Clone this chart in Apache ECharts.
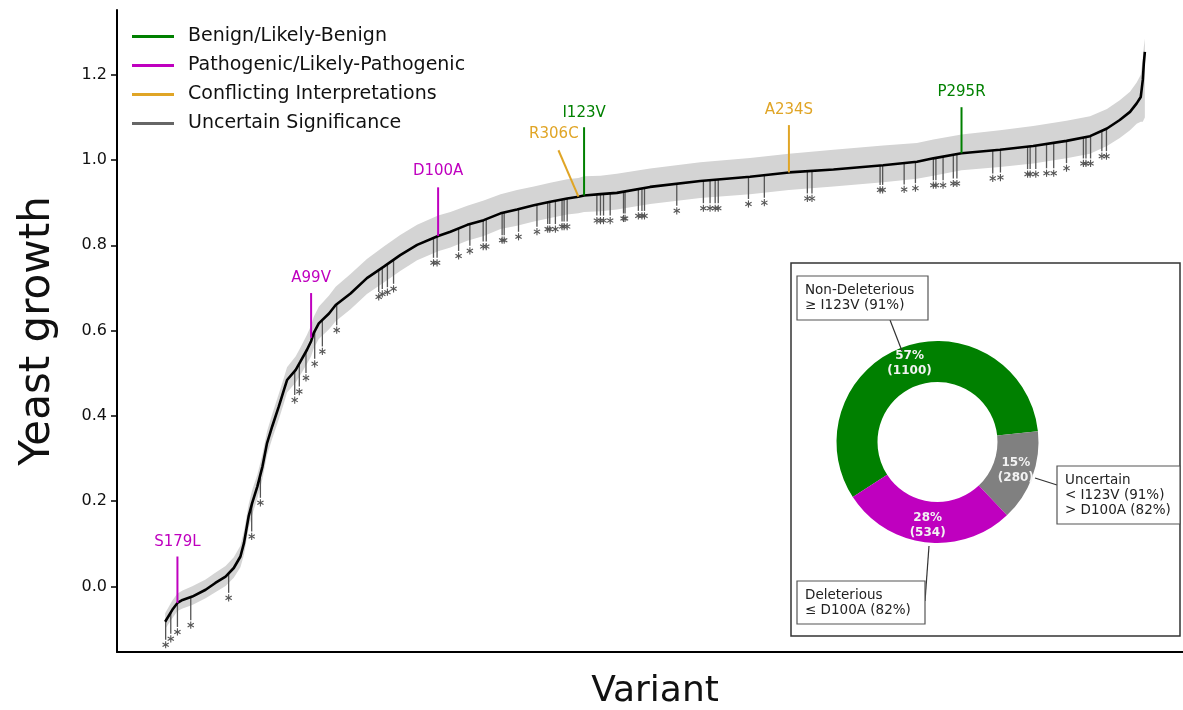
<!DOCTYPE html>
<html><head><meta charset="utf-8">
<script src="https://cdn.jsdelivr.net/npm/echarts@6/dist/echarts.min.js"></script>
<style>html,body{margin:0;padding:0;background:#fff}#c{width:1183px;height:710px}</style>
</head><body><div id="c"></div>
<script>
// ---- sorted yeast-growth curve (variant rank, value) ----
const curveIdx = [0,14,24,34,53,79,98,118,134,147,154,163,170,180,190,199,209,222,232,238,255,264,277,285,290,300,320,333,362,394,427,459,492,533,557,590,622,655,687,720,752,785,807,818,850,882,947,1045,1142,1218,1305,1402,1468,1500,1555,1630,1695,1760,1806,1839,1864,1884,1897,1905,1907,1909,1911,1913];
const curveVal = [-0.083,-0.055,-0.039,-0.032,-0.024,-0.008,0.008,0.023,0.043,0.070,0.102,0.164,0.196,0.234,0.281,0.336,0.375,0.422,0.461,0.484,0.508,0.527,0.555,0.575,0.594,0.617,0.640,0.660,0.687,0.723,0.750,0.777,0.801,0.822,0.832,0.848,0.859,0.875,0.884,0.894,0.902,0.910,0.914,0.917,0.920,0.923,0.937,0.951,0.961,0.971,0.978,0.988,0.996,1.004,1.016,1.024,1.033,1.045,1.056,1.074,1.094,1.113,1.133,1.148,1.168,1.188,1.227,1.254];
const bandHi = [-0.063,-0.033,-0.017,-0.010,0.000,0.016,0.032,0.048,0.068,0.095,0.130,0.192,0.226,0.262,0.310,0.364,0.404,0.452,0.490,0.514,0.540,0.560,0.590,0.612,0.632,0.656,0.682,0.703,0.733,0.768,0.797,0.824,0.848,0.870,0.878,0.893,0.905,0.920,0.930,0.938,0.947,0.955,0.958,0.962,0.963,0.968,0.980,0.995,1.005,1.015,1.024,1.034,1.040,1.048,1.060,1.070,1.080,1.092,1.103,1.120,1.140,1.160,1.182,1.200,1.220,1.240,1.265,1.285];
const bandLo = [-0.100,-0.075,-0.058,-0.052,-0.044,-0.028,-0.014,0.001,0.020,0.045,0.075,0.136,0.168,0.206,0.252,0.308,0.346,0.392,0.430,0.455,0.478,0.496,0.522,0.540,0.558,0.580,0.603,0.622,0.650,0.686,0.713,0.740,0.765,0.786,0.795,0.811,0.822,0.838,0.846,0.856,0.864,0.872,0.875,0.878,0.880,0.884,0.897,0.911,0.920,0.930,0.938,0.948,0.956,0.963,0.976,0.984,0.992,1.004,1.015,1.033,1.052,1.070,1.085,1.090,1.090,1.090,1.095,1.100];

// ---- significance markers (rank, line top on curve, asterisk value) ----
const markIdx = [1,11,24,50,124,169,186,253,262,275,292,307,335,417,424,434,446,524,531,573,595,621,627,658,662,690,726,747,751,762,775,779,785,843,850,856,869,895,898,924,931,936,999,1051,1064,1074,1080,1139,1170,1254,1263,1396,1401,1443,1465,1500,1505,1519,1539,1546,1616,1631,1684,1689,1700,1721,1735,1760,1793,1798,1807,1829,1838];
const markTop = [-0.081,-0.060,-0.039,-0.025,0.029,0.192,0.262,0.505,0.523,0.551,0.598,0.625,0.662,0.742,0.748,0.756,0.766,0.818,0.821,0.840,0.850,0.859,0.861,0.876,0.877,0.885,0.895,0.901,0.902,0.904,0.907,0.908,0.910,0.919,0.920,0.921,0.922,0.926,0.926,0.932,0.934,0.935,0.944,0.951,0.953,0.954,0.955,0.961,0.965,0.973,0.974,0.987,0.988,0.993,0.996,1.004,1.005,1.008,1.012,1.014,1.022,1.024,1.031,1.032,1.034,1.037,1.040,1.045,1.053,1.054,1.056,1.068,1.073];
const markStar = [-0.137,-0.123,-0.107,-0.091,-0.027,0.117,0.196,0.437,0.457,0.489,0.522,0.551,0.601,0.679,0.686,0.690,0.698,0.759,0.759,0.775,0.787,0.797,0.797,0.812,0.812,0.820,0.832,0.838,0.838,0.838,0.844,0.844,0.844,0.858,0.858,0.858,0.858,0.863,0.863,0.869,0.869,0.869,0.881,0.887,0.887,0.887,0.887,0.897,0.900,0.910,0.910,0.930,0.930,0.931,0.934,0.941,0.941,0.941,0.945,0.945,0.957,0.959,0.967,0.967,0.967,0.969,0.969,0.981,0.992,0.992,0.992,1.009,1.009];

const yTicks = [0.0,0.2,0.4,0.6,0.8,1.0,1.2];

// ---- ClinVar categories / annotated variants ----
const categories = ['Benign/Likely-Benign','Pathogenic/Likely-Pathogenic','Conflicting Interpretations','Uncertain Significance'];
const categoryColors = ['#008000','#bf00bf','#e0a526','#666666'];
const annNames = ['S179L','A99V','D100A','R306C','I123V','A234S','P295R'];
const annCat = [1,1,1,2,0,2,0];
const annLabelIdx = [24,285,533,759,818,1218,1555];
const annLabelVal = [0.104,0.723,0.973,1.061,1.110,1.117,1.160];
const annTopIdx = [24,285,533,768,818,1218,1555];
const annTopVal = [0.070,0.688,0.936,1.023,1.077,1.082,1.124];
const annBotIdx = [24,285,533,807,818,1218,1555];
const annBotVal = [-0.039,0.583,0.822,0.914,0.917,0.971,1.016];

// ---- inset donut ----
const pieNames = ['Non-Deleterious','Uncertain','Deleterious'];
const pieCounts = [1100,280,534];
const piePct = [57,15,28];
const pieColors = ['#008000','#808080','#bf00bf'];
const calloutTexts = ['Non-Deleterious\n≥ I123V (91%)','Uncertain\n< I123V (91%)\n> D100A (82%)','Deleterious\n≤ D100A (82%)'];

const FONT = 'DejaVu Sans';
const chart = echarts.init(document.getElementById('c'), null, {renderer:'canvas'});

function bandRender(params, api){
  const pts = [];
  for (let k=0;k<curveIdx.length;k++) pts.push(api.coord([curveIdx[k], bandHi[k]]));
  for (let k=curveIdx.length-1;k>=0;k--) pts.push(api.coord([curveIdx[k], bandLo[k]]));
  return {type:'polygon', shape:{points:pts}, style:{fill:'#d4d4d4', stroke:null}};
}
function markRender(params, api){
  const p1 = api.coord([api.value(0), api.value(1)]);
  const p2 = api.coord([api.value(0), api.value(2)]);
  const r = 3.6, c = '#555555';
  const ch = [{type:'line', shape:{x1:p1[0],y1:p1[1],x2:p2[0],y2:p2[1]-5}, style:{stroke:c, lineWidth:1.3}}];
  for (const a of [90,30,-30]) {
    const dx = r*Math.cos(a*Math.PI/180), dy = r*Math.sin(a*Math.PI/180);
    ch.push({type:'line', shape:{x1:p2[0]-dx,y1:p2[1]-dy,x2:p2[0]+dx,y2:p2[1]+dy}, style:{stroke:c, lineWidth:1.1}});
  }
  return {type:'group', children:ch};
}
function annSeries(cat){
  const ks = [];
  annNames.forEach((n,k)=>{ if (annCat[k]===cat) ks.push(k); });
  return {
    name: categories[cat], type:'custom', z:5,
    data: ks.map(k=>[annLabelIdx[k], annLabelVal[k], annTopIdx[k], annTopVal[k], annBotIdx[k], annBotVal[k]]),
    itemStyle:{color:categoryColors[cat]},
    renderItem: function(params, api){
      const k = ks[params.dataIndex];
      const pl = api.coord([api.value(0), api.value(1)]);
      const pt = api.coord([api.value(2), api.value(3)]);
      const pb = api.coord([api.value(4), api.value(5)]);
      return {type:'group', children:[
        {type:'line', shape:{x1:pt[0],y1:pt[1],x2:pb[0],y2:pb[1]}, style:{stroke:categoryColors[cat], lineWidth:2}},
        {type:'text', x:pl[0], y:pl[1], style:{text:annNames[k], fill:categoryColors[cat], font:'15px "'+FONT+'"', textAlign:'center', textVerticalAlign:'middle'}}
      ]};
    }
  };
}

const option = {
  animation:false,
  backgroundColor:'#ffffff',
  grid:{left:117, right:-10, top:10, bottom:58, containLabel:false, outerBoundsMode:'none'},
  legend:{
    orient:'vertical', left:127, top:22, itemWidth:42, itemHeight:3, itemGap:10, selectedMode:false,
    textStyle:{fontFamily:FONT, fontSize:19, lineHeight:19, color:'#111', padding:[0,0,0,9]},
    data: categories.map((n,i)=>({name:n, icon:'rect', itemStyle:{color:categoryColors[i]}}))
  },
  xAxis:{
    type:'value', min:-94, max:2007,
    axisLine:{show:true, onZero:false, lineStyle:{color:'#000', width:2}},
    axisTick:{show:false}, axisLabel:{show:false}, splitLine:{show:false},
    name:'Variant', nameLocation:'middle', nameGap:22,
    nameTextStyle:{fontFamily:FONT, fontSize:36, color:'#111'}
  },
  yAxis:{
    type:'value', min:-0.154, max:1.352,
    axisLine:{show:true, onZero:false, lineStyle:{color:'#000', width:2}},
    axisTick:{show:true, length:6, customValues:yTicks, lineStyle:{color:'#000', width:1.5}},
    axisLabel:{customValues:yTicks, formatter:v=>Number(v).toFixed(1), fontFamily:FONT, fontSize:16, color:'#111', margin:10},
    splitLine:{show:false},
    name:'Yeast growth', nameLocation:'middle', nameGap:58, nameRotate:90,
    nameTextStyle:{fontFamily:FONT, fontSize:42, color:'#111'}
  },
  series:[
    {name:'band', type:'custom', silent:true, z:1, data:[[0,0]], renderItem:bandRender},
    {name:categories[3], type:'custom', silent:true, z:2, itemStyle:{color:categoryColors[3]},
      data: markIdx.map((x,k)=>[x, markTop[k], markStar[k]]), renderItem:markRender},
    {name:'curve', type:'line', z:3, silent:true, showSymbol:false, smooth:false,
      data: curveIdx.map((x,k)=>[x, curveVal[k]]), lineStyle:{color:'#000', width:2.6}},
    annSeries(0), annSeries(1), annSeries(2),
    {name:'inset', type:'pie', silent:true, z:10, center:[937.5,442], radius:[60,101], startAngle:213, clockwise:true,
      avoidLabelOverlap:false, labelLine:{show:false},
      label:{show:true, position:'inside', color:'#f2f2f2', fontFamily:FONT, fontWeight:'bold', fontSize:12, lineHeight:15,
        formatter:p=>piePct[p.dataIndex]+'%\n('+pieCounts[p.dataIndex]+')'},
      itemStyle:{borderWidth:0},
      data: pieNames.map((n,i)=>({name:n, value:pieCounts[i], itemStyle:{color:pieColors[i]}}))
    }
  ],
  graphic:[
    {type:'rect', z:0, shape:{x:791, y:263, width:389, height:373}, style:{fill:'#fff', stroke:'#333', lineWidth:1.5}},
    {type:'line', z:20, shape:{x1:890,y1:320,x2:902,y2:351}, style:{stroke:'#333', lineWidth:1.2}},
    {type:'line', z:20, shape:{x1:1035,y1:478,x2:1057,y2:485}, style:{stroke:'#333', lineWidth:1.2}},
    {type:'line', z:20, shape:{x1:929,y1:546,x2:925,y2:601}, style:{stroke:'#333', lineWidth:1.2}},
    {type:'rect', z:21, shape:{x:797, y:276, width:131, height:44}, style:{fill:'#fff', stroke:'#555', lineWidth:1.2}},
    {type:'rect', z:21, shape:{x:1057, y:466, width:123, height:58}, style:{fill:'#fff', stroke:'#555', lineWidth:1.2}},
    {type:'rect', z:21, shape:{x:797, y:581, width:128, height:43}, style:{fill:'#fff', stroke:'#555', lineWidth:1.2}},
    {type:'text', z:22, x:805, y:298, style:{text:calloutTexts[0], font:'13.5px "'+FONT+'"', fill:'#222', lineHeight:15, textVerticalAlign:'middle'}},
    {type:'text', z:22, x:1065, y:495, style:{text:calloutTexts[1], font:'13.5px "'+FONT+'"', fill:'#222', lineHeight:15, textVerticalAlign:'middle'}},
    {type:'text', z:22, x:805, y:603, style:{text:calloutTexts[2], font:'13.5px "'+FONT+'"', fill:'#222', lineHeight:15, textVerticalAlign:'middle'}}
  ]
};
chart.setOption(option);
</script></body></html>
